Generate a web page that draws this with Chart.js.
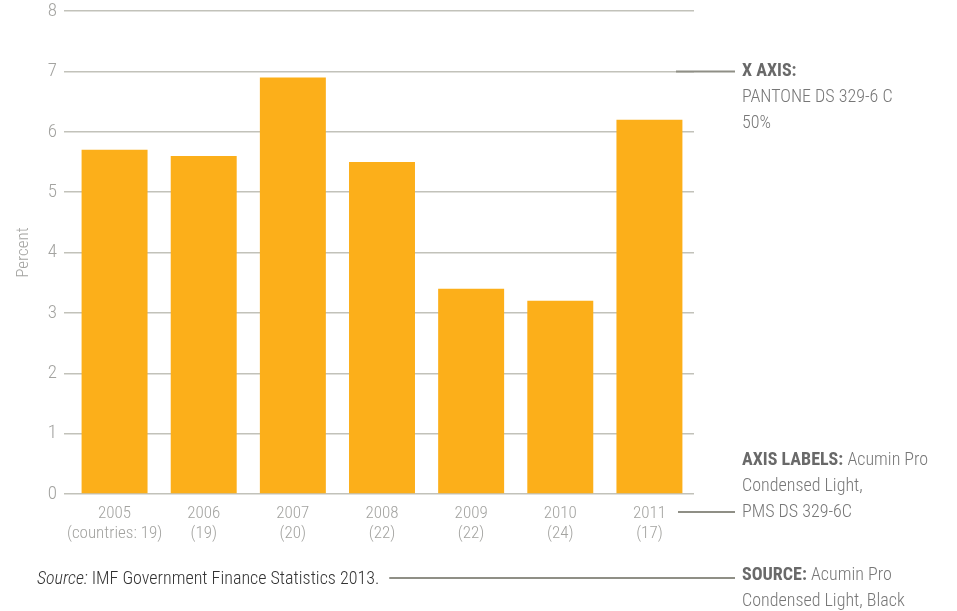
<!DOCTYPE html>
<html>
<head>
<meta charset="utf-8">
<title>Percent by year</title>
<script src="https://cdn.jsdelivr.net/npm/chart.js@4/dist/chart.umd.min.js"></script>
<style>
  html, body { margin: 0; padding: 0; background: #fff; }
  #wrap { position: relative; width: 957px; height: 611px; }
</style>
</head>
<body>
<div id="wrap"><canvas id="barChart"></canvas></div>
<script>
// Values per year, with the number of reporting countries under each year
const years = ["2005", "2006", "2007", "2008", "2009", "2010", "2011"];
const countryCounts = ["(countries: 19)", "(19)", "(20)", "(22)", "(22)", "(24)", "(17)"];
const percentValues = [5.7, 5.6, 6.9, 5.5, 3.4, 3.2, 6.2];
const yTicks = [0, 1, 2, 3, 4, 5, 6, 7, 8];

const FONT = "'Roboto Condensed', 'Roboto', sans-serif";
const labelGrey = "#a3a3a0";
const gridGrey = "#c2c2ba";
const leaderGrey = "#8f8f86";

// Side notes and source line, drawn straight onto the canvas
const notesPlugin = {
  id: "notes",
  afterDraw(chart) {
    const ctx = chart.ctx;
    const y = chart.scales.y;
    ctx.save();
    ctx.textBaseline = "middle";
    ctx.textAlign = "left";

    // source
    ctx.fillStyle = "#333333";
    ctx.font = "italic 300 18px " + FONT;
    ctx.fillText("Source:", 37, 579);
    let sx = 37 + ctx.measureText("Source: ").width;
    ctx.font = "300 18px " + FONT;
    ctx.fillText("IMF Government Finance Statistics 2013.", sx, 579);
    sx += ctx.measureText("IMF Government Finance Statistics 2013.").width;

    // leader lines
    ctx.strokeStyle = leaderGrey;
    ctx.lineWidth = 2;
    const lines = [
      [676, y.getPixelForValue(7), 735],
      [678, 512, 735],
      [sx + 10, 578, 735]
    ];
    lines.forEach(([x0, ly, x1]) => {
      ctx.beginPath();
      ctx.moveTo(x0, ly);
      ctx.lineTo(x1, ly);
      ctx.stroke();
    });

    const tx = 742;
    const drawNote = (bold, rest, ny) => {
      let x = tx;
      if (bold) {
        ctx.font = "bold 18px " + FONT;
        ctx.fillStyle = "#696969";
        ctx.fillText(bold, x, ny);
        x += ctx.measureText(bold + " ").width;
      }
      if (rest) {
        ctx.font = "300 18px " + FONT;
        ctx.fillStyle = "#777777";
        ctx.fillText(rest, x, ny);
      }
    };
    drawNote("X AXIS:", "", 71);
    drawNote("", "PANTONE DS 329-6 C", 97);
    drawNote("", "50%", 123);
    drawNote("AXIS LABELS:", "Acumin Pro", 460);
    drawNote("", "Condensed Light,", 486);
    drawNote("", "PMS DS 329-6C", 512);
    drawNote("SOURCE:", "Acumin Pro", 575);
    drawNote("", "Condensed Light, Black", 601);

    ctx.restore();
  }
};

new Chart(document.getElementById("barChart"), {
  type: "bar",
  data: {
    labels: years.map((yr, i) => [yr, countryCounts[i]]),
    datasets: [{
      label: "Percent",
      data: percentValues,
      backgroundColor: "#fcaf1a",
      borderWidth: 0,
      categoryPercentage: 1,
      barPercentage: 0.74
    }]
  },
  options: {
    responsive: true,
    maintainAspectRatio: false,
    animation: false,
    layout: { padding: { top: 11, right: 263, bottom: 0, left: 0 } },
    plugins: {
      legend: { display: false },
      tooltip: { enabled: false }
    },
    scales: {
      x: {
        grid: { display: false },
        border: { display: false },
        ticks: {
          color: labelGrey,
          font: { family: FONT, size: 17, weight: 300, lineHeight: 1.18 },
          padding: 2,
          maxRotation: 0,
          autoSkip: false
        },
        afterFit(scale) {
          scale.height = 117;
          scale.paddingLeft = 0;
          scale.paddingRight = 0;
        }
      },
      y: {
        min: 0,
        max: 8,
        afterBuildTicks(scale) {
          scale.ticks = yTicks.map(v => ({ value: v }));
        },
        grid: {
          color: gridGrey,
          lineWidth: 1.5,
          drawTicks: true,
          tickLength: 6
        },
        border: { display: false },
        ticks: {
          color: labelGrey,
          font: { family: FONT, size: 19, weight: 300 },
          padding: 7
        },
        title: {
          display: true,
          text: "Percent",
          color: labelGrey,
          font: { family: FONT, size: 17, weight: 300 },
          padding: { top: 14, bottom: 0 }
        },
        afterFit(scale) {
          scale.width = 70;
          scale.paddingTop = 0;
          scale.paddingBottom = 0;
        }
      }
    }
  },
  plugins: [notesPlugin]
});
</script>
</body>
</html>
